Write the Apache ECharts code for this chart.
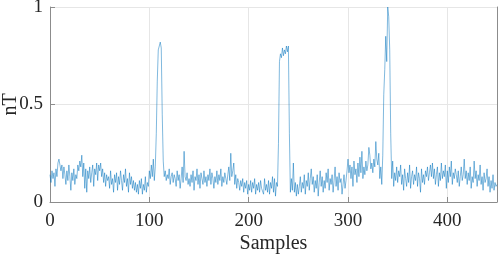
<!DOCTYPE html>
<html>
<head>
<meta charset="utf-8">
<script src="https://cdn.jsdelivr.net/npm/echarts@6/dist/echarts.min.js"></script>
<style>html,body{margin:0;padding:0;background:#fff}#c{width:500px;height:254px}</style>
</head>
<body>
<div id="c"></div>
<script>
const xTicks = [0, 100, 200, 300, 400];
const yTicks = [0, 0.5, 1];
const xLabel = 'Samples';
const yLabel = 'nT';
const values = [
0.14,0.10,0.16,0.12,0.15,0.08,0.17,0.13,0.20,0.22,
0.21,0.16,0.19,0.12,0.18,0.14,0.09,0.16,0.11,0.19,
0.13,0.06,0.15,0.11,0.17,0.09,0.14,0.12,0.19,0.16,
0.21,0.18,0.24,0.13,0.20,0.07,0.17,0.05,0.16,0.12,
0.18,0.10,0.15,0.19,0.08,0.17,0.14,0.20,0.11,0.19,
0.16,0.20,0.13,0.17,0.10,0.15,0.08,0.14,0.11,0.13,
0.07,0.16,0.09,0.12,0.05,0.14,0.10,0.15,0.06,0.13,
0.09,0.16,0.11,0.06,0.14,0.10,0.17,0.08,0.12,0.05,
0.15,0.09,0.13,0.07,0.11,0.06,0.10,0.05,0.09,0.04,
0.11,0.07,0.12,0.04,0.09,0.06,0.13,0.05,0.10,0.08,
0.16,0.12,0.19,0.13,0.22,0.11,0.18,0.35,0.62,0.78,
0.80,0.82,0.79,0.45,0.21,0.13,0.16,0.11,0.14,0.12,
0.17,0.09,0.13,0.15,0.10,0.14,0.12,0.08,0.16,0.11,
0.14,0.07,0.12,0.18,0.10,0.26,0.13,0.11,0.15,0.09,
0.12,0.08,0.14,0.10,0.16,0.06,0.13,0.11,0.17,0.09,
0.14,0.07,0.15,0.12,0.09,0.16,0.10,0.13,0.08,0.14,
0.11,0.17,0.09,0.15,0.12,0.07,0.13,0.10,0.16,0.09,
0.14,0.11,0.17,0.08,0.13,0.10,0.15,0.12,0.09,0.14,
0.18,0.11,0.25,0.13,0.16,0.20,0.09,0.14,0.07,0.12,
0.10,0.06,0.11,0.08,0.12,0.05,0.10,0.07,0.11,0.04,
0.09,0.06,0.11,0.05,0.10,0.07,0.12,0.04,0.09,0.06,
0.10,0.05,0.11,0.07,0.08,0.04,0.12,0.06,0.09,0.05,
0.11,0.04,0.10,0.07,0.13,0.05,0.12,0.03,0.10,0.08,
0.30,0.72,0.76,0.74,0.79,0.75,0.78,0.76,0.80,0.77,
0.80,0.35,0.05,0.12,0.06,0.20,0.05,0.10,0.03,0.09,
0.04,0.08,0.13,0.05,0.10,0.07,0.14,0.04,0.11,0.08,
0.15,0.06,0.12,0.17,0.09,0.13,0.05,0.11,0.07,0.14,
0.03,0.10,0.16,0.08,0.13,0.05,0.11,0.07,0.15,0.10,
0.17,0.06,0.12,0.09,0.14,0.05,0.11,0.18,0.08,0.13,
0.06,0.15,0.10,0.12,0.04,0.09,0.14,0.07,0.11,0.16,
0.22,0.15,0.19,0.12,0.18,0.08,0.21,0.14,0.17,0.10,
0.20,0.13,0.23,0.15,0.26,0.12,0.18,0.14,0.21,0.16,
0.19,0.28,0.24,0.17,0.20,0.15,0.22,0.18,0.31,0.22,
0.19,0.25,0.12,0.18,0.09,0.24,0.55,0.68,0.85,0.72,
1.00,0.95,0.78,0.35,0.12,0.21,0.08,0.15,0.11,0.18,
0.10,0.16,0.13,0.19,0.09,0.14,0.06,0.17,0.12,0.08,
0.15,0.10,0.19,0.07,0.13,0.16,0.09,0.14,0.11,0.18,
0.08,0.15,0.12,0.05,0.17,0.10,0.14,0.09,0.16,0.13,
0.18,0.11,0.15,0.19,0.13,0.20,0.12,0.17,0.09,0.14,
0.18,0.08,0.15,0.11,0.20,0.12,0.16,0.13,0.19,0.07,
0.16,0.10,0.18,0.13,0.21,0.09,0.15,0.12,0.17,0.14,
0.10,0.16,0.08,0.13,0.18,0.11,0.14,0.22,0.12,0.16,
0.09,0.15,0.11,0.18,0.07,0.13,0.10,0.21,0.12,0.16,
0.08,0.14,0.11,0.19,0.09,0.13,0.06,0.15,0.10,0.12,
0.17,0.08,0.13,0.05,0.11,0.07,0.14,0.06,0.10,0.08,
0.09
];
const data = values.map((v, i) => [i, v]);
const font = 'Liberation Serif, Times New Roman, serif';
const chart = echarts.init(document.getElementById('c'), null, {renderer: 'canvas'});
chart.setOption({
  animation: false,
  backgroundColor: '#ffffff',
  grid: {left: 50, right: 3, top: 7, bottom: 52, containLabel: false, outerBoundsMode: 'none'},
  xAxis: {
    type: 'value', min: 0, max: 450, interval: 100,
    name: xLabel, nameLocation: 'middle', nameGap: 32, nameMoveOverlap: false,
    nameTextStyle: {fontFamily: font, fontSize: 20, color: '#262626'},
    axisLine: {show: true, lineStyle: {color: '#8c8c8c', width: 1}},
    axisTick: {show: true, inside: true, length: 5, lineStyle: {color: '#8c8c8c'}},
    axisLabel: {fontFamily: font, fontSize: 19, color: '#262626', margin: 10,
      formatter: v => xTicks.indexOf(v) >= 0 ? String(v) : ''},
    splitLine: {show: true, lineStyle: {color: '#e6e6e6', width: 1}}
  },
  yAxis: [{
    type: 'value', min: 0, max: 1, interval: 0.5,
    name: yLabel, nameLocation: 'middle', nameGap: 29, nameRotate: 90, nameMoveOverlap: false,
    nameTextStyle: {fontFamily: font, fontSize: 20, color: '#262626'},
    axisLine: {show: true, lineStyle: {color: '#8c8c8c', width: 1}},
    axisTick: {show: true, inside: true, length: 5, lineStyle: {color: '#8c8c8c'}},
    axisLabel: {fontFamily: font, fontSize: 19, color: '#262626', margin: 7,
      formatter: v => yTicks.indexOf(v) >= 0 ? String(v) : ''},
    splitLine: {show: true, lineStyle: {color: '#e6e6e6', width: 1}}
  }, {
    type: 'value', min: 0, max: 1, interval: 0.5, position: 'right',
    axisLine: {show: true, lineStyle: {color: '#8c8c8c', width: 1}},
    axisTick: {show: false}, axisLabel: {show: false}, splitLine: {show: false}
  }],
  series: [{
    type: 'line', data: data, showSymbol: false, symbol: 'none',
    lineStyle: {color: '#0072BD', width: 0.5}, silent: true
  }]
});
</script>
</body>
</html>
